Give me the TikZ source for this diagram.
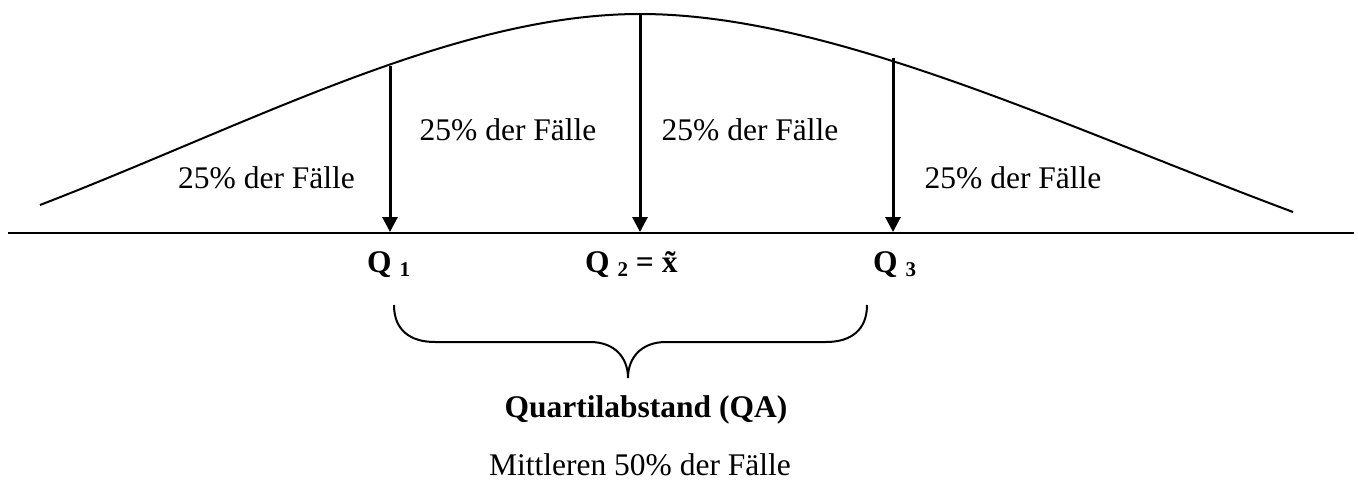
\documentclass[tikz,border=0pt]{standalone}
\usepackage{fontspec}
\setmainfont{Liberation Serif}
\usetikzlibrary{arrows.meta}
\tikzset{
  lbl/.style={inner sep=0pt, anchor=base, font=\fontsize{31.5}{36}\selectfont},
  qlbl/.style={inner sep=0pt, anchor=base west, font=\fontsize{31.5}{36}\selectfont\bfseries},
  quart/.style={line width=3pt, -{Triangle[length=15pt,width=15pt]}},
  thinline/.style={line width=2pt},
}
\newcommand{\qsub}[1]{\raisebox{-0.15em}{\fontsize{21}{21}\selectfont #1}}
\begin{document}
\begin{tikzpicture}[x=1pt,y=1pt]
\useasboundingbox (0,0) rectangle (1358,-492);
% baseline
\coordinate (bl) at (8,-233);
\coordinate (br) at (1354,-233);
\draw[thinline] (bl) -- (br);
% bell curve
\coordinate (cl) at (40,-205);
\coordinate (cpeak) at (640,-14);
\coordinate (cr) at (1293,-212);
\draw[thinline] (cl) .. controls (250,-124) and (455,-14) .. (cpeak)
  .. controls (830,-14) and (1060,-125) .. (cr);
% arrows
\coordinate (q1top) at (390,-66);
\coordinate (q1bot) at (390,-232);
\coordinate (q2top) at (640,-14);
\coordinate (q2bot) at (640,-232);
\coordinate (q3top) at (893,-58);
\coordinate (q3bot) at (893,-232);
\draw[quart] (q1top) -- (q1bot);
\draw[quart] (q2top) -- (q2bot);
\draw[quart] (q3top) -- (q3bot);
% percentages
\node[lbl] (p1) at (266.5,-189) {25\% der Fälle};
\node[lbl] (p2) at (508,-141) {25\% der Fälle};
\node[lbl] (p3) at (750,-141) {25\% der Fälle};
\node[lbl] (p4) at (1013,-189) {25\% der Fälle};
% quartile labels
\node[qlbl] (Q1) at (367,-272) {Q \qsub{1}};
\node[qlbl] (Q2) at (585,-272) {Q \qsub{2} = \~{x}};
\node[qlbl] (Q3) at (873,-272) {Q \qsub{3}};
% brace
\coordinate (bracel) at (394,-305);
\coordinate (bracer) at (867,-305);
\coordinate (bracetip) at (628,-378);
\draw[thinline] (bracel) .. controls (394,-330) and (410,-342) .. (435,-342)
  -- (590,-342) .. controls (615,-342) and (628,-358) .. (bracetip)
  .. controls (628,-358) and (641,-342) .. (666,-342)
  -- (826,-342) .. controls (851,-342) and (867,-330) .. (bracer);
\node[lbl, font=\fontsize{31.5}{36}\selectfont\bfseries] (qa) at (646,-417) {Quartilabstand (QA)};
\node[lbl] (mid) at (640,-475) {Mittleren 50\% der Fälle};
\end{tikzpicture}
\end{document}
